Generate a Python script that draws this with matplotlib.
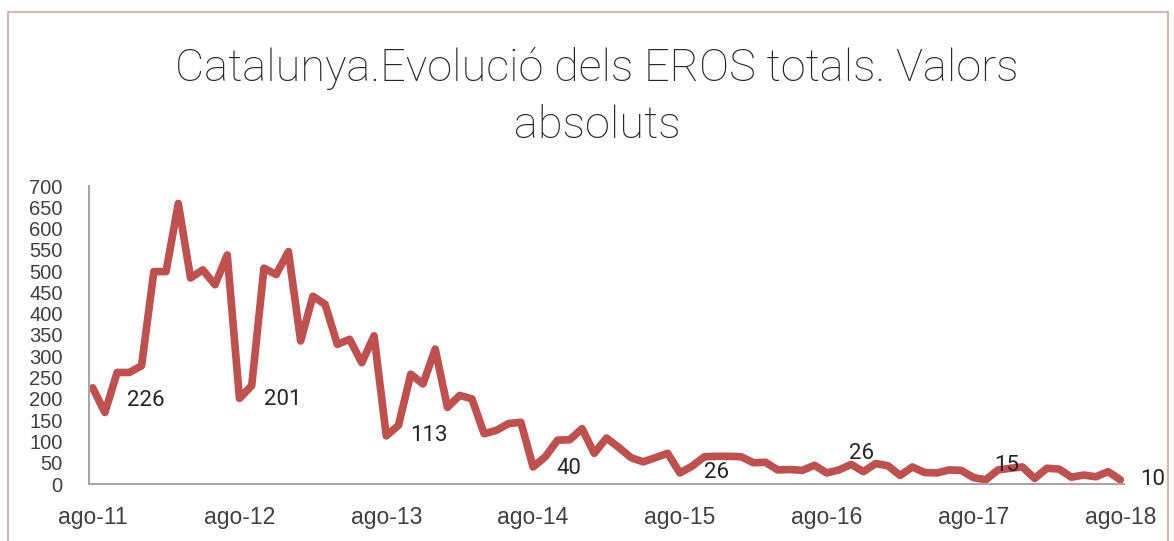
import matplotlib
matplotlib.use('Agg')
import matplotlib.pyplot as plt
import matplotlib.patches as patches
import numpy as np

# Monthly EROS totals, Aug 2011 .. Aug 2018
values = [226, 168, 262, 262, 278, 499, 499, 659, 484, 503, 468, 538,
          201, 231, 507, 492, 546, 336, 441, 422, 328, 340, 285, 348,
          113, 138, 258, 235, 317, 180, 208, 200, 118, 126, 142, 145,
          40, 64, 103, 104, 130, 72, 108, 86, 62, 52, 62, 72,
          26, 42, 64, 65, 65, 64, 50, 51, 33, 34, 32, 44,
          26, 33, 46, 29, 48, 43, 20, 40, 27, 26, 33, 32,
          15, 10, 33, 37, 40, 13, 37, 35, 16, 21, 17, 29,
          10]
year_labels = ['ago-11', 'ago-12', 'ago-13', 'ago-14', 'ago-15', 'ago-16', 'ago-17', 'ago-18']
title = 'Catalunya.Evolució dels EROS totals. Valors\nabsoluts'

# data labels sit on each August; some were nudged by hand in the original
label_dx = [25, 18, 17, 17, 17, 16, 15, 14]
label_dy = [-9, -1, 0, -1, 0, 14, 9, 0]

W, H = 1174, 541
fig = plt.figure(figsize=(W / 100, H / 100), dpi=100)

# outer chart border
fig.add_artist(patches.Rectangle((8 / W, -0.05), (1168 - 8) / W, (H - 12) / H + 0.05,
                                 transform=fig.transFigure, fill=False,
                                 edgecolor='#D9A3A3', linewidth=1.2))

ax = fig.add_axes([89 / W, 57 / H, (1124 - 89) / W, (484 - 186) / H])
x = np.arange(len(values))
ax.plot(x, values, color='#C0504D', linewidth=5.5, solid_joinstyle='round',
        solid_capstyle='round')

ax.set_xlim(-0.3, len(values) - 1 + 0.3)
ax.set_ylim(0, 700)
ax.set_yticks(np.arange(0, 701, 50))
ax.set_xticks(np.arange(0, len(values), 12))
ax.set_xticklabels(year_labels)

tick_font = ['Liberation Sans', 'DejaVu Sans']
for lab in ax.get_yticklabels():
    lab.set_family(tick_font)
    lab.set_fontsize(14.5)
    lab.set_color('#404040')
for lab in ax.get_xticklabels():
    lab.set_family(tick_font)
    lab.set_fontsize(16.5)
    lab.set_color('#404040')
ax.tick_params(axis='both', length=0)
ax.tick_params(axis='y', pad=19)
ax.tick_params(axis='x', pad=16)

for s in ['top', 'right']:
    ax.spines[s].set_visible(False)
for s in ['left', 'bottom']:
    ax.spines[s].set_color('#A6A6A6')
    ax.spines[s].set_linewidth(1.5)

for k, i in enumerate(range(0, len(values), 12)):
    ax.annotate(str(values[i]), (i, values[i]), xytext=(label_dx[k], label_dy[k]),
                textcoords='offset points', ha='left', va='center',
                fontsize=16, color='#262626', family=['Roboto', 'DejaVu Sans'],
                annotation_clip=False)

fig.text(597 / W, 1 - 97 / H, title, ha='center', va='center', fontsize=32.5,
         color='#262626', family=['Roboto', 'DejaVu Sans'], fontweight='light',
         linespacing=1.42)

fig.savefig('out.png', dpi=100)
